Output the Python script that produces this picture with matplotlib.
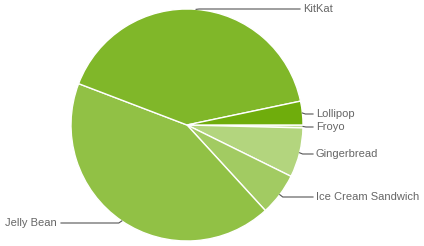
import numpy as np
import matplotlib
matplotlib.use("Agg")
import matplotlib.pyplot as plt

# Android platform versions share (%)
versions = ["Froyo", "Gingerbread", "Ice Cream Sandwich", "Jelly Bean", "KitKat", "Lollipop"]
shares = [0.4, 6.9, 5.9, 42.6, 40.9, 3.3]
colors = ["#c4df9b", "#b3d57e", "#a2cb62", "#91c145", "#80b729", "#6fad0c"]

# label placement in pixel space (text x, text y)
label_pos = {
    "Froyo": (316, 127),
    "Gingerbread": (316, 154),
    "Ice Cream Sandwich": (316, 197),
    "Jelly Bean": (5, 223),
    "KitKat": (303, 9),
    "Lollipop": (316, 114),
}

cx, cy, r = 187, 125, 116

fig = plt.figure(figsize=(4.24, 2.46), dpi=100)
ax = fig.add_axes([0, 0, 1, 1])

wedges, _ = ax.pie(shares, colors=colors, startangle=0, counterclock=True,
                   center=(cx, cy), radius=r, frame=True,
                   wedgeprops=dict(edgecolor="white", linewidth=1))
ax.set_xlim(0, 424)
ax.set_ylim(246, 0)
ax.set_aspect("equal")
ax.set_axis_off()

for w, name in zip(wedges, versions):
    mid = np.deg2rad((w.theta1 + w.theta2) / 2)
    ex, ey = cx + r * np.cos(mid), cy + r * np.sin(mid)
    tx, ty = label_pos[name]
    if tx > cx:
        bend = ex + 3
        ax.plot([ex, bend, tx - 3], [ey, ty, ty], color="#555555", lw=0.8)
    else:
        bend = ex - 3
        ax.plot([ex, bend, 61], [ey, ty, ty], color="#555555", lw=0.8)
    ax.text(tx, ty, name, ha="left", va="center", fontsize=8,
            family="Liberation Sans", color="#666666")

fig.savefig("out.png", dpi=100)
